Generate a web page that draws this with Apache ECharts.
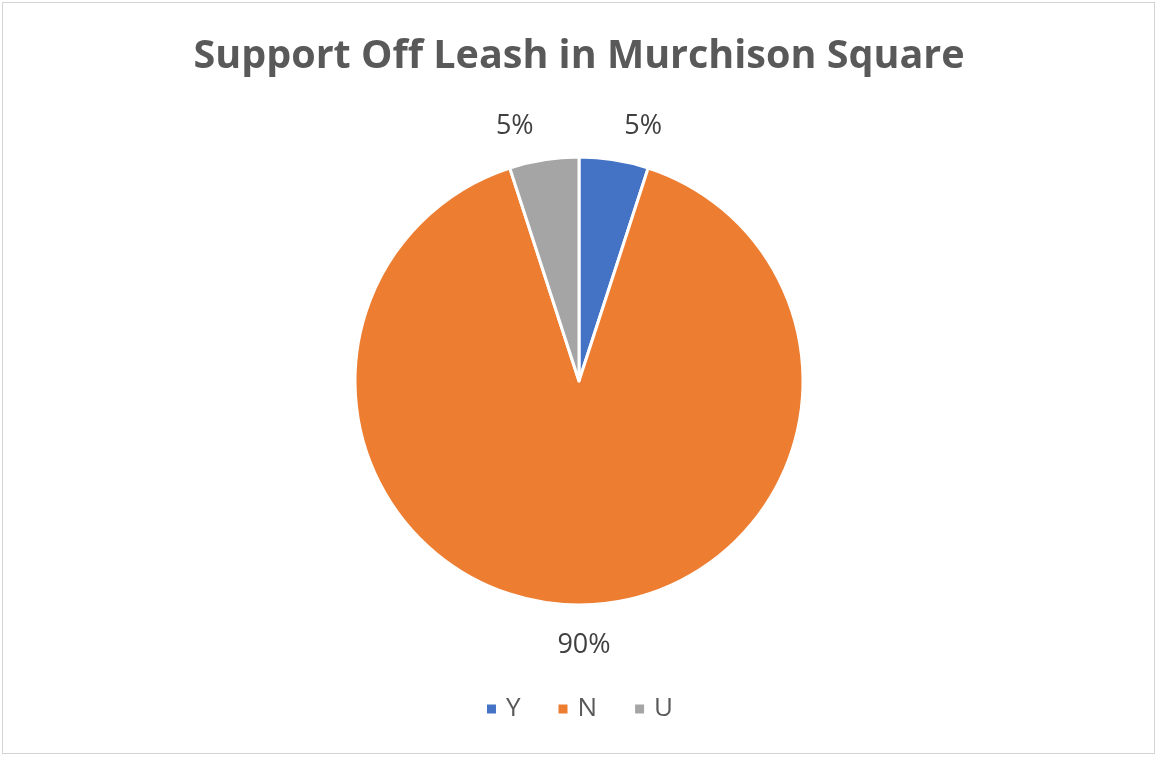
<!DOCTYPE html>
<html>
<head>
<meta charset="utf-8">
<script src="https://cdn.jsdelivr.net/npm/echarts@6/dist/echarts.min.js"></script>
<style>
  html, body { margin: 0; padding: 0; background: #fff; }
  #chart { width: 1158px; height: 757px; }
  #frame { position: absolute; left: 2px; top: 2px; width: 1151px; height: 750px;
           border: 1px solid #d4d4d4; pointer-events: none; }
</style>
</head>
<body>
<div id="chart"></div>
<div id="frame"></div>
<script>
  // pie data
  var categories = ["Y", "N", "U"];
  var values = [5, 90, 5];
  var colors = ["#4472C4", "#ED7D31", "#A5A5A5"];

  var chart = echarts.init(document.getElementById("chart"));
  var font = "'Open Sans', Calibri, sans-serif";

  var option = {
    backgroundColor: "#fff",
    color: colors,
    title: {
      text: "Support Off Leash in Murchison Square",
      left: "center",
      top: 32,
      textStyle: { fontFamily: font, fontSize: 39.5, fontWeight: "bold", color: "#595959" }
    },
    legend: {
      bottom: 30,
      left: "center",
      itemWidth: 11,
      itemHeight: 11,
      itemGap: 36,
      icon: "rect",
      textStyle: { fontFamily: font, fontSize: 26, color: "#595959", padding: [0, 0, 0, 4] },
      data: categories
    },
    series: [
      {
        type: "pie",
        center: [579, 381],
        radius: 224,
        startAngle: 90,
        clockwise: true,
        itemStyle: { borderColor: "#fff", borderWidth: 3 },
        label: {
          show: true,
          position: "outside",
          formatter: "{d}%",
          fontFamily: font,
          fontSize: 27,
          color: "#404040"
        },
        labelLine: { show: false, length: 34, length2: 0 },
        labelLayout: function (p) {
          return p.dataIndex === 1 ? { align: "center", dy: 6 } : {};
        },
        emphasis: { disabled: true },
        data: categories.map(function (c, i) {
          return { name: c, value: values[i] };
        })
      }
    ]
  };

  chart.setOption(option);
</script>
</body>
</html>
